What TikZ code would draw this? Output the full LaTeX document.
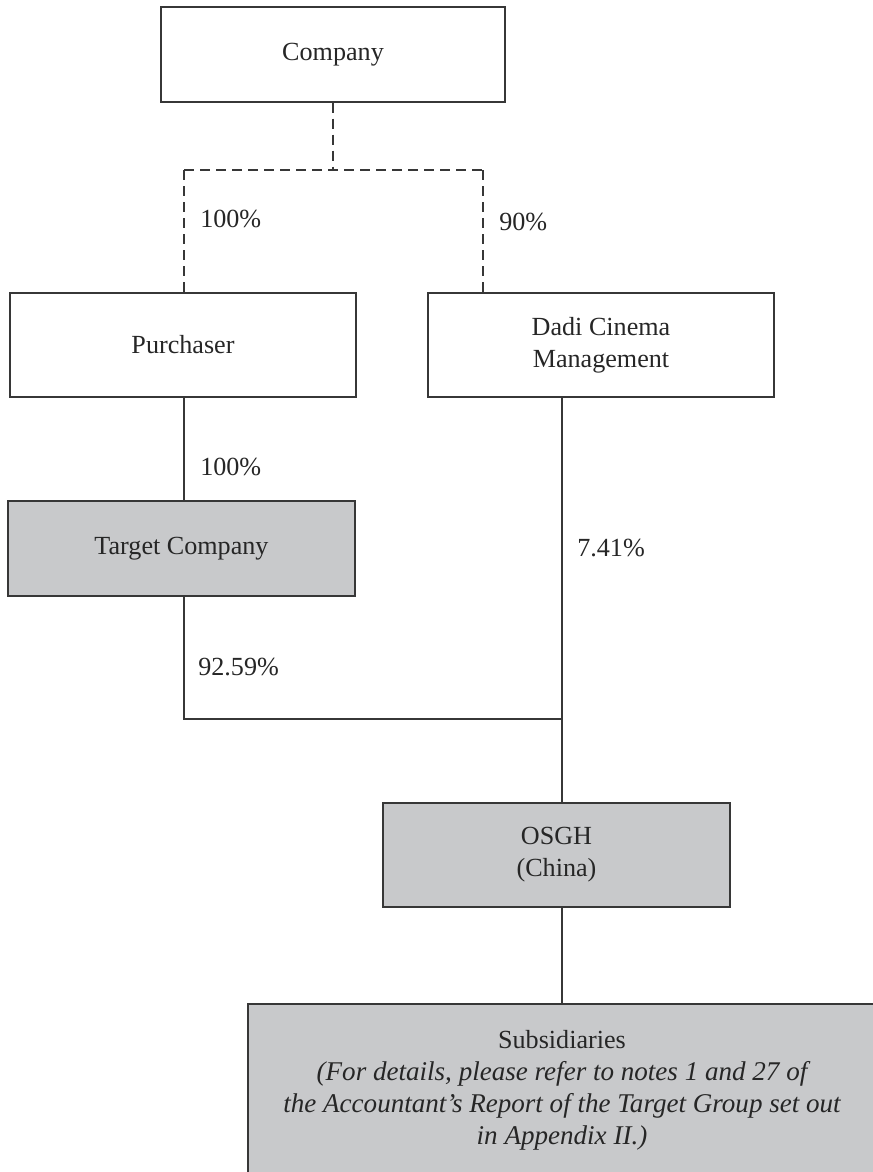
\documentclass[tikz,border=0pt]{standalone}
\usepackage{fontspec}
\setmainfont{Liberation Serif}
\definecolor{boxgray}{RGB}{200,201,203}
\definecolor{linegray}{RGB}{55,55,55}
\newcommand{\itfont}{\fontsize{20.3}{24}\selectfont\itshape}
\begin{document}
\begin{tikzpicture}[x=0.75pt,y=-0.75pt,
  every node/.style={font=\fontsize{19.6}{24}\selectfont, text=black!85},
  box/.style={draw=linegray, line width=0.8pt, rectangle, inner sep=0pt, align=center},
  shaded/.style={box, fill=boxgray},
  conn/.style={draw=linegray, line width=0.8pt},
  dashconn/.style={conn, dash pattern=on 7.5pt off 4.5pt},
  pct/.style={anchor=base west, inner sep=0pt}]
\path[use as bounding box] (0,0) rectangle (873,1172);
\clip (0,0) rectangle (873,1172);

\node[box, minimum width=258pt, minimum height=71.25pt] (comp) at (333,54.5) {Company};
\node[box, minimum width=259.5pt, minimum height=78pt] (purch) at (183,345) {Purchaser};
\node[box, minimum width=259.5pt, minimum height=78pt] (dadi) at (601,345) {Dadi Cinema\\Management};
\node[shaded, minimum width=260.25pt, minimum height=71.25pt] (target) at (181.5,548.5) {Target Company};
\node[shaded, minimum width=260.25pt, minimum height=78pt] (osgh) at (556.5,855) {OSGH\\(China)};
\node[shaded, minimum width=471pt, minimum height=129pt] (subs) at (562,1090)
  {Subsidiaries\\{\itfont (For details, please refer to notes 1 and 27 of}\\{\itfont the Accountant’s Report of the Target Group set out}\\{\itfont in Appendix II.)}};

% dashed connectors
\coordinate (jc) at (333,170);
\coordinate (jl) at (184,170);
\coordinate (jr) at (483,170);
\draw[dashconn] (comp.south) -- (jc);
\draw[dashconn] (jl) -- (jr);
\draw[dashconn] (jl) -- (jl |- purch.north);
\draw[dashconn] (jr) -- (jr |- dadi.north);

% solid connectors
\coordinate (m) at (562,719);
\coordinate (lx) at (184,719);
\draw[conn] (lx |- purch.south) -- (lx |- target.north);
\draw[conn] (lx |- target.south) -- (lx) -- (m);
\draw[conn] (m |- dadi.south) -- (m |- osgh.north);
\draw[conn] (m |- osgh.south) -- (m |- subs.north);

% labels
\node[pct] (l1) at (200,227) {100\%};
\node[pct] (l2) at (499,230) {90\%};
\node[pct] (l3) at (200,475.5) {100\%};
\node[pct] (l4) at (577,556.5) {7.41\%};
\node[pct] (l5) at (198,675) {92.59\%};
\end{tikzpicture}
\end{document}
